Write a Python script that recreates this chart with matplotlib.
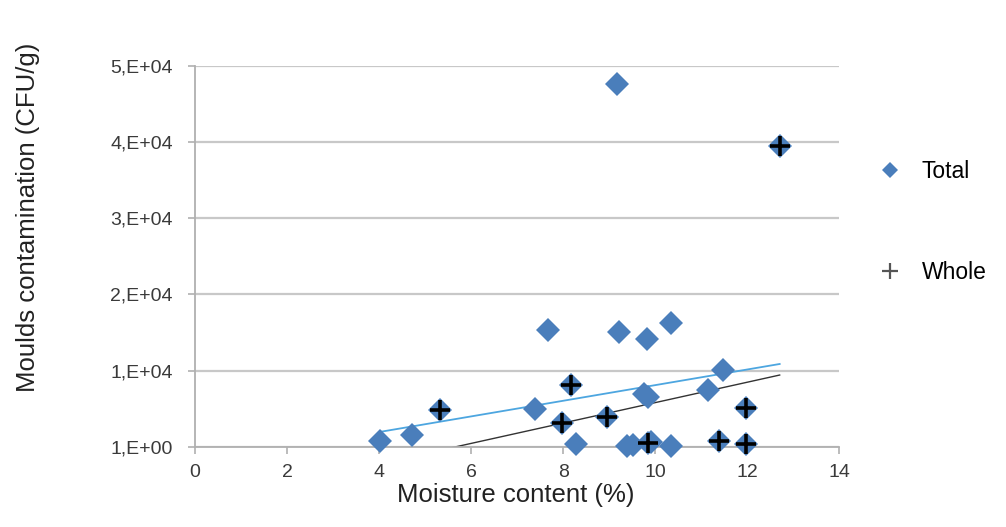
import matplotlib.pyplot as plt
import numpy as np
from matplotlib.lines import Line2D

plt.rcParams['font.family'] = ['Liberation Sans', 'DejaVu Sans']

# Total series (all samples) - moisture (%) and moulds (CFU/g)
total_x = [9.17, 7.67, 9.22, 9.83, 10.35, 11.48, 11.16, 9.75, 9.85, 7.40,
           4.02, 4.71, 8.28, 9.40, 9.52, 10.35, 9.92,
           12.71, 8.17, 5.33, 7.98, 8.95, 11.97, 9.84, 11.40, 11.97]
total_y = [47600, 15350, 15040, 14170, 16320, 10090, 7460, 6900, 6600, 4960,
           790, 1540, 360, 90, 300, 90, 700,
           39420, 8120, 4830, 3080, 3860, 5090, 450, 750, 350]

# Whole samples
whole_x = [12.71, 8.17, 5.33, 7.98, 8.95, 11.97, 9.84, 11.40, 11.97]
whole_y = [39420, 8120, 4830, 3080, 3860, 5090, 450, 750, 350]

# Linear trendlines (start / end)
trend_total_x = [4.02, 12.71]
trend_total_y = [1970, 10880]
trend_whole_x = [5.33, 12.71]
trend_whole_y = [-440, 9430]

y_ticks = [0, 10000, 20000, 30000, 40000, 50000]
y_labels = ['1,E+00', '1,E+04', '2,E+04', '3,E+04', '4,E+04', '5,E+04']
x_ticks = [0, 2, 4, 6, 8, 10, 12, 14]

blue = '#4a7ebb'

fig = plt.figure(figsize=(10.06, 5.27), dpi=100)
ax = fig.add_axes([0.194, 0.152, 0.640, 0.723])

for yv in y_ticks:
    ax.axhline(yv, color='#c8c8c8', linewidth=1.6, zorder=0)

ax.plot(trend_total_x, trend_total_y, color='#4da6e0', linewidth=1.3, zorder=2)
ax.plot(trend_whole_x, trend_whole_y, color='#333333', linewidth=1.0, zorder=2)

ax.plot(total_x, total_y, linestyle='none', marker='D', markersize=12,
        color=blue, markeredgewidth=0, zorder=3, clip_on=False)
ax.plot(whole_x, whole_y, linestyle='none', marker='+', markersize=14,
        color='black', markeredgewidth=2.6, zorder=4, clip_on=False)

ax.set_xlim(0, 14)
ax.set_ylim(0, 50000)
ax.set_xticks(x_ticks)
ax.set_yticks(y_ticks)
ax.set_yticklabels(y_labels)

for s in ['top', 'right']:
    ax.spines[s].set_visible(False)
ax.spines['left'].set_color('#b0b0b0')
ax.spines['bottom'].set_color('#b0b0b0')
ax.spines['left'].set_linewidth(1.3)
ax.spines['bottom'].set_linewidth(1.3)
ax.tick_params(axis='both', colors='#b0b0b0', labelcolor='#3a3a3a',
               labelsize=14, length=5, width=1.2)
ax.tick_params(axis='y', pad=11)
ax.tick_params(axis='x', pad=7)

ax.set_xlabel('Moisture content (%)', fontsize=18.5, color='#222222')
ax.xaxis.set_label_coords(0.498, -0.095)
ax.set_ylabel('Moulds contamination (CFU/g)', fontsize=18.5, color='#222222', va='center')
ax.yaxis.set_label_coords(-0.259, 0.603)

handles = [Line2D([], [], linestyle='none', marker='D', markersize=8, color=blue,
                  markeredgewidth=0, label='Total'),
           Line2D([], [], linestyle='none', marker='+', markersize=12, color='#555555',
                  markeredgewidth=1.6, label='Whole')]
fig.legend(handles=handles, loc='center left', bbox_to_anchor=(0.851, 0.578),
           frameon=False, fontsize=16.5, labelspacing=3.4, handletextpad=0.75,
           handlelength=1.2)

plt.savefig('out.png', dpi=100)
